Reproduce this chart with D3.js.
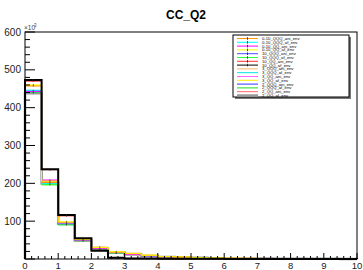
<!DOCTYPE html>
<html>
<head>
<meta charset="utf-8">
<script src="https://cdn.jsdelivr.net/npm/d3@7"></script>
<style>
  body { margin: 0; background: #fff; }
  svg { display: block; font-family: "Liberation Sans", Arial, sans-serif; }
</style>
</head>
<body>
<script>
// bin edges: 20 bins of 0.5 from 0 to 10 (values in units of 10^3)
var binEdges = d3.range(0, 10.001, 0.5);

var names = [
  "0-10_QQQ_ani_env", "0-10_QQQ_af_env", "0-10_QQ_ani_env", "0-10_QQ_af_env",
  "10_QQQ_ani_env", "10_QQQ_af_env", "10_QQ_ani_env", "10_QQ_af_env",
  "3_QQQ_ani_env", "3_QQQ_af_env", "3_QQ_ani_env", "3_QQ_af_env",
  "2_QQQ_ani_env", "2_QQQ_af_env", "2_QQ_ani_env", "2_QQ_af_env"
];
var colors = [
  "#ff9900", "#00ffff", "#ff00ff", "#ffff00",
  "#4d4dff", "#33ff33", "#ff3333", "#000000",
  "#ffb366", "#00e6e6", "#ff66ff", "#ffee00",
  "#3333ff", "#22dd22", "#ff6666", "#999999"
];
var widths = [1, 1, 1, 1, 1, 1, 1, 2, 1, 1, 1, 1, 1, 1, 1, 2.5];
var withErrors = [1, 1, 1, 1, 1, 1, 1, 1, 0, 0, 0, 0, 0, 0, 0, 0];

var s1  = [458, 202, 97, 51, 31, 18, 15, 9, 6, 5, 3.5, 2.5, 2, 1.5, 1.2, 1, 0.8, 0.6, 0.5, 0.4];
var s2  = [445, 200, 94, 50, 28, 17, 12, 8, 5, 4, 3, 2, 1.5, 1.2, 1, 0.8, 0.6, 0.5, 0.4, 0.3];
var s3  = [443, 208, 95, 50, 28, 17, 12, 8, 5, 4, 3, 2, 1.5, 1.2, 1, 0.8, 0.6, 0.5, 0.4, 0.3];
var s4  = [460, 206, 98, 52, 30, 19, 14, 10, 6, 5, 4, 3, 2, 1.5, 1.2, 1, 0.8, 0.6, 0.5, 0.4];
var s5  = [442, 203, 93, 49, 27, 17, 12, 8, 5, 4, 3, 2, 1.5, 1.2, 1, 0.8, 0.6, 0.5, 0.4, 0.3];
var s6  = [440, 197, 91, 49, 26, 16, 12, 8, 5, 4, 3, 2, 1.5, 1.2, 1, 0.8, 0.6, 0.5, 0.4, 0.3];
var s7  = [470, 236, 114, 54, 23, 3, 1.5, 1, 0.8, 0.6, 0.5, 0.4, 0.3, 0.3, 0.2, 0.2, 0.1, 0.1, 0.1, 0.1];
var s8  = [473, 237, 116, 55, 22, 3, 1.5, 1, 0.8, 0.6, 0.5, 0.4, 0.3, 0.3, 0.2, 0.2, 0.1, 0.1, 0.1, 0.1];
var s9  = [457, 203, 97, 52, 31, 18, 15, 10, 6, 5, 3.5, 3, 2.5, 2, 1.5, 1.2, 1, 0.8, 0.6, 0.5];
var s10 = [446, 201, 94, 50, 28, 17, 12, 8, 5, 4, 3, 2, 1.5, 1.2, 1, 0.8, 0.6, 0.5, 0.4, 0.3];
var s11 = [444, 209, 95, 50, 28, 17, 12, 8, 5, 4, 3, 2, 1.5, 1.2, 1, 0.8, 0.6, 0.5, 0.4, 0.3];
var s12 = [459, 205, 97, 51, 30, 19, 13, 10, 6, 5, 3, 2.5, 2, 1.5, 1.2, 1, 0.8, 0.6, 0.5, 0.4];
var s13 = [441, 202, 93, 49, 27, 17, 12, 8, 5, 4, 3, 2, 1.5, 1.2, 1, 0.8, 0.6, 0.5, 0.4, 0.3];
var s14 = [440, 196, 90, 48, 26, 16, 12, 8, 5, 4, 3, 2, 1.5, 1.2, 1, 0.8, 0.6, 0.5, 0.4, 0.3];
var s15 = [443, 205, 95, 50, 28, 17, 12, 8, 5, 4, 3, 2, 1.5, 1.2, 1, 0.8, 0.6, 0.5, 0.4, 0.3];
var s16 = [438, 200, 93, 49, 27, 17, 12, 8, 5, 4, 3, 2, 1.5, 1.2, 1, 0.8, 0.6, 0.5, 0.4, 0.3];
var seriesValues = [s1, s2, s3, s4, s5, s6, s7, s8, s9, s10, s11, s12, s13, s14, s15, s16];

// draw order: the "2_" and "3_" series under the others, black on top
var drawOrder = [15, 13, 12, 14, 10, 9, 11, 8, 5, 4, 1, 2, 0, 3, 6, 7];

var width = 363, height = 270;
var x = d3.scaleLinear().domain([0, 10]).range([25, 357]);
var y = d3.scaleLinear().domain([0, 600]).range([259, 32]);

var svg = d3.select("body").append("svg")
    .attr("width", width)
    .attr("height", height);

// title
svg.append("text")
    .attr("x", 186).attr("y", 19)
    .attr("text-anchor", "middle")
    .style("font-size", "12px").style("font-weight", "bold")
    .text("CC_Q2");

// histograms
var plot = svg.append("g");
drawOrder.forEach(function(i) {
  var vals = seriesValues[i];
  var pts = [[binEdges[0], 0]];
  vals.forEach(function(v, k) {
    pts.push([binEdges[k], v]);
    pts.push([binEdges[k + 1], v]);
  });
  pts.push([binEdges[vals.length], 0]);
  plot.append("path")
      .attr("d", d3.line().x(function(p) { return x(p[0]); }).y(function(p) { return y(p[1]); })(pts))
      .attr("fill", "none")
      .attr("stroke", colors[i])
      .attr("stroke-width", widths[i]);
  // small statistical error marks at bin centres
  if (withErrors[i]) {
    plot.selectAll(null)
      .data(vals.slice(0, 6))
      .enter().append("line")
      .attr("x1", function(v, k) { return x(binEdges[k] + 0.25); })
      .attr("x2", function(v, k) { return x(binEdges[k] + 0.25); })
      .attr("y1", function(v) { return y(v) - 1; })
      .attr("y2", function(v) { return y(v) + 1; })
      .attr("stroke", "#333").attr("stroke-width", 0.6);
  }
});

// frame
svg.append("rect")
    .attr("x", x(0)).attr("y", y(600))
    .attr("width", x(10) - x(0)).attr("height", y(0) - y(600))
    .attr("fill", "none").attr("stroke", "#000").attr("stroke-width", 1);

// y axis ticks (pointing inwards)
var yAxis = svg.append("g").attr("stroke", "#000").attr("stroke-width", 1);
d3.range(0, 601, 20).forEach(function(v) {
  var major = v % 100 === 0;
  yAxis.append("line")
      .attr("x1", x(0)).attr("x2", x(0) + (major ? 10 : 5))
      .attr("y1", y(v)).attr("y2", y(v));
});
svg.selectAll(".ylab")
    .data(d3.range(100, 601, 100))
    .enter().append("text")
    .attr("class", "ylab")
    .attr("x", 21).attr("y", function(v) { return y(v) + 3.5; })
    .attr("text-anchor", "end")
    .style("font-size", "10px").style("fill", "#222")
    .text(function(v) { return v; });
svg.append("text")
    .attr("x", 24).attr("y", 30)
    .style("font-size", "6.5px").style("fill", "#444")
    .text("\u00d710");
svg.append("text")
    .attr("x", 34).attr("y", 26.5)
    .style("font-size", "4.5px").style("fill", "#444")
    .text("3");

// x axis ticks
var xAxis = svg.append("g").attr("stroke", "#000").attr("stroke-width", 1);
d3.range(0, 50.5, 1).forEach(function(k) {
  var v = k / 5;
  var major = k % 5 === 0;
  xAxis.append("line")
      .attr("x1", x(v)).attr("x2", x(v))
      .attr("y1", y(0)).attr("y2", y(0) - (major ? 6 : 3));
});
svg.selectAll(".xlab")
    .data(d3.range(0, 11))
    .enter().append("text")
    .attr("class", "xlab")
    .attr("x", function(v) { return x(v); }).attr("y", 268.5)
    .attr("text-anchor", "middle")
    .style("font-size", "9.5px").style("fill", "#222")
    .text(function(v) { return v; });

// legend
var lg = svg.append("g");
lg.append("rect")
    .attr("x", 235).attr("y", 37).attr("width", 116).attr("height", 62)
    .attr("fill", "#777");
lg.append("rect")
    .attr("x", 233).attr("y", 35).attr("width", 116).attr("height", 62)
    .attr("fill", "#fff").attr("stroke", "#000").attr("stroke-width", 1);
names.forEach(function(n, i) {
  var yy = 38.5 + i * 3.8;
  lg.append("line")
      .attr("x1", 237).attr("x2", 258).attr("y1", yy).attr("y2", yy)
      .attr("stroke", colors[i]).attr("stroke-width", widths[i] > 2 ? 2.5 : 1);
  if (withErrors[i]) {
    lg.append("line")
        .attr("x1", 247.5).attr("x2", 247.5).attr("y1", yy - 1.3).attr("y2", yy + 1.3)
        .attr("stroke", "#000").attr("stroke-width", 0.7);
  }
  lg.append("text")
      .attr("x", 262).attr("y", yy + 1.5)
      .style("font-size", "4.2px").style("fill", "#000")
      .text(n);
});
</script>
</body>
</html>
